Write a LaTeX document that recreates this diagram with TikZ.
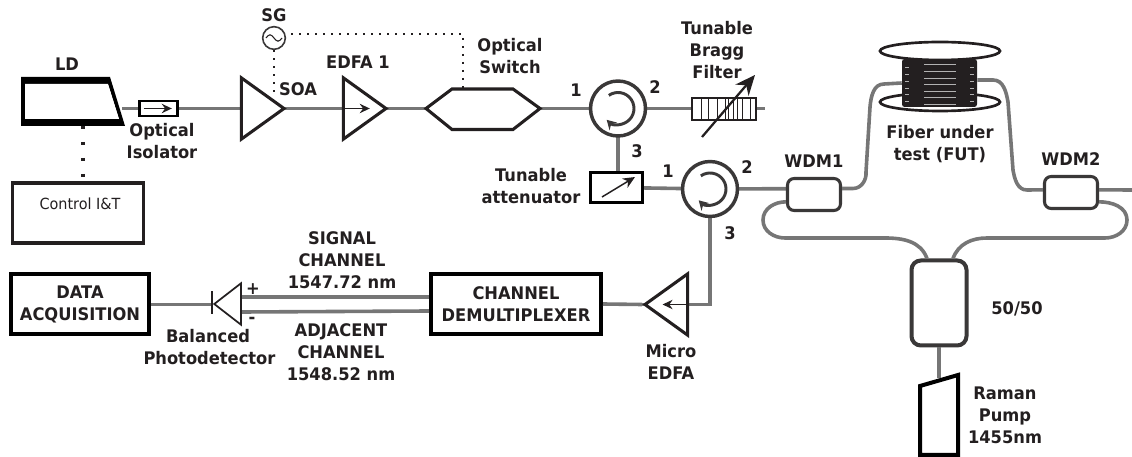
\documentclass[tikz,border=0pt]{standalone}
\usepackage{fontspec}
\setmainfont{DejaVu Sans}[FakeStretch=0.94]
\usepackage{tikz}
\usetikzlibrary{positioning}
\usetikzlibrary{arrows.meta,shapes.geometric}
\definecolor{inkC}{RGB}{35,31,32}
\definecolor{lineC}{RGB}{58,56,56}
\definecolor{fiberC}{RGB}{118,118,118}

\begin{document}
\begin{tikzpicture}[x=0.75pt,y=0.75pt]
\tikzset{
  lbl/.style={font=\bfseries\fontsize{13}{16.5}\selectfont,text=inkC,text width=3.4cm,text badly centered,inner sep=0pt},
  fiber/.style={draw=fiberC,line width=2.7pt},
  boxed/.style={draw=black,fill=white,line width=3pt,rectangle,inner sep=0pt,font=\bfseries\fontsize{13}{16.5}\selectfont,text=inkC,align=center},
  wdmbox/.style={draw=lineC,fill=white,line width=2.3pt,rectangle,rounded corners=5pt,inner sep=0pt},
  circulator/.style={circle,draw=lineC,fill=white,line width=2.6pt,minimum size=41.25pt,inner sep=0pt},
  amp/.style={isosceles triangle,isosceles triangle stretches,draw=inkC,fill=white,line width=2.3pt,inner sep=0pt,minimum width=46pt,minimum height=32pt},
  turn/.style={line width=2.2pt,draw=lineC,-{Stealth[length=7pt,width=8pt]}},
  sparse/.style={draw=inkC,line width=1.5pt,dash pattern=on 1.5pt off 4.5pt},
  gain/.style={draw=inkC,line width=1.2pt,-{Stealth[length=7.5pt,width=7pt]}}
}
\useasboundingbox (0,0) rectangle (1132,457);

% \draw[help lines] (0,0) grid (1132,457);

\coordinate (ldOut) at (122,348.5);
\coordinate (ldBase) at (83,331);
\coordinate (sgOut) at (291,423);
\coordinate (detPlus) at (242,160);
\coordinate (detMinus) at (242,145);
\coordinate (ramanIn) at (939,79);
\coordinate (braggEnd) at (765,348.5);
\coordinate (wdmEnd) at (1132,267);
\coordinate (switchTop) at (463,369);

\node[boxed,line width=2.3pt,draw=inkC,minimum width=98.25pt,minimum height=45pt] (control) at (78,244) {};
\node[font=\fontsize{11.5}{16}\selectfont,text=inkC,inner sep=0pt] (controlText) at (80,253) {Control I\&T};
\node[boxed,minimum width=103.5pt,minimum height=45pt] (dataBox) at (80,152.5) {DATA\\ACQUISITION};
\node[boxed,minimum width=127.5pt,minimum height=45pt] (demux) at (516,153) {CHANNEL\\DEMULTIPLEXER};

\draw[sparse,line width=2.6pt,dash pattern=on 2.6pt off 9.4pt] (ldBase) -- (ldBase |- control.north);

% main fiber line
\draw[fiber] (ldOut) -- (braggEnd);
\draw[fiber] (618,348.5) -- (618,269.5);
\draw[fiber] (616.5,269.5) -- (710,268);
\draw[fiber] (710,268) -- (842,268.5);
\draw[fiber] (710,268) -- (710,152.5) -- (642,152.5);
\draw[fiber] (demux.east) -- (642,152.5);
\draw[fiber] (dataBox.east) -- (213,152.5);
\draw[fiber] (detPlus) -- ([yshift=5.25pt]demux.west);
\draw[fiber] (detMinus) -- ([yshift=-5.25pt]demux.west);

% LD
\fill[black,even odd rule] (21,380) -- (110,380) -- (125,331) -- (21,331) -- cycle
      (25,373) -- (108,373) -- (119,338) -- (25,338) -- cycle;
\fill[white] (25,373) -- (108,373) -- (119,338) -- (25,338) -- cycle;

\node[rectangle,draw=black,fill=white,line width=2.2pt,minimum width=28.5pt,minimum height=11.25pt,inner sep=0pt] (isolator) at (158.5,348.5) {};
\draw[gain] ([xshift=-11pt]isolator.center) -- ([xshift=10pt]isolator.center);

\node[amp,anchor=apex] (soa) at (288,348.5) {};
\node[amp,anchor=apex] (edfa) at (390,348.5) {};
\draw[gain] (edfa.west) -- ([xshift=21pt]edfa.west);

\draw[draw=inkC,fill=white,line width=2.3pt] (426,348.5) -- (452,368) -- (513,368) -- (540,348.5) -- (513,327.5) -- (452,327.5) -- cycle;

\node[circulator] (circA) at (618,348.5) {};
\node[circulator] (circB) at (710,268) {};
\draw[turn] ([shift={(125:12pt)}]circA.center) arc[start angle=125,end angle=-135,radius=12pt];
\draw[turn] ([shift={(125:12pt)}]circB.center) arc[start angle=125,end angle=-135,radius=12pt];

\node[rectangle,draw=inkC,fill=white,line width=0.8pt,minimum width=48pt,minimum height=16.5pt,inner sep=0pt] (bragg) at (724,348) {};
\draw[inkC,line width=0.7pt] (701,337) -- (701,359) (708,337) -- (708,359) (717,337) -- (717,359)
      (725,337) -- (725,359) (728,337) -- (728,359) (733,337) -- (733,359)
      (737,337) -- (737,359) (742,337) -- (742,359) (750,337) -- (750,359);
\draw[inkC,line width=1.7pt,-{Stealth[length=15pt,width=13pt]}] (702,320) -- (755,382);

\node[rectangle,draw=black,fill=white,line width=2.7pt,minimum width=39pt,minimum height=22.5pt,inner sep=0pt] (atten) at (616.5,269.5) {};
\draw[inkC,line width=1.1pt,-{Stealth[length=9pt,width=8pt]}] (602,260) -- (635,280);

\node[wdmbox] at (814,262.5) [minimum width=39.75pt,minimum height=24pt] (wdmOne) {};
\node[wdmbox] at (1071,264.5) [minimum width=39.75pt,minimum height=24pt] (wdmTwo) {};
\node[wdmbox,line width=3pt,rounded corners=7pt,minimum width=41.25pt,minimum height=63.75pt] (coupler) at (939,154) {};

% spool of fiber under test
\node[ellipse,draw=inkC,fill=white,line width=2pt,minimum width=90pt,minimum height=13.5pt,inner sep=0pt] (spoolLow) at (940,355) {};
\node[rectangle,fill=inkC,rounded corners=2pt,minimum width=56.25pt,minimum height=36pt,inner sep=0pt] (spoolBody) at (939.5,374) {};
\node[ellipse,draw=inkC,fill=white,line width=2pt,minimum width=90pt,minimum height=13.5pt,inner sep=0pt] (spoolTop) at (940,406) {};
\draw[white!70!black,line width=0.5pt] (924,393) -- (956,393) (924,386) -- (956,386) (924,379) -- (956,379)
      (924,373) -- (956,373) (924,366) -- (956,366) (924,360) -- (956,360) (924,353) -- (956,353);
\draw[white!70!black,line width=0.5pt] (905,390) -- (909,390) (905,383) -- (909,383) (905,376) -- (909,376)
      (905,369) -- (909,369) (905,363) -- (909,363) (905,356) -- (909,356)
      (970,390) -- (974,390) (970,383) -- (974,383) (970,376) -- (974,376)
      (970,369) -- (974,369) (970,363) -- (974,363) (970,356) -- (974,356);

% fiber around the spool and the couplers
\draw[fiber] ([yshift=4.5pt]wdmOne.east) -- (853,268.5) to [out=0,in=-85] (866,285)
      -- (870,350) to [out=85,in=180] (884,373) -- (spoolBody.west);
\draw[fiber] ([yshift=2.25pt]spoolBody.east) -- (993,377) to [out=0,in=100] (1008,355)
      -- (1013,287) to [out=-80,in=180] (1027,267) -- ([yshift=2pt]wdmTwo.west);
\draw[fiber] ([yshift=2pt]wdmTwo.east) -- (wdmEnd);
\draw[fiber] ([yshift=-5.5pt]wdmOne.west) to [out=180,in=90] (763,237)
      to [out=-90,in=180] (785,219) -- (885,219) to [out=0,in=110] ([xshift=-9pt]coupler.north);
\draw[fiber] ([xshift=10.5pt]coupler.north) to [out=70,in=180] (987,219) -- (1105,219)
      to [out=0,in=-90] (1127,237) to [out=90,in=0] ([yshift=-7pt]wdmTwo.east);
\draw[fiber] (coupler.south) -- (ramanIn);

% Raman pump
\draw[black,line width=3pt,miter limit=4] (920,71) -- (958,82) -- (958,2) -- (920,2) -- cycle;

% detector
\node[isosceles triangle,isosceles triangle stretches,shape border rotate=180,draw=inkC,fill=white,line width=1.3pt,minimum width=31pt,minimum height=20pt,inner sep=0pt,anchor=apex] (detector) at (212,153) {};
\draw[inkC,line width=1.2pt] (212,143) -- (212,166);

% micro amplifier
\node[amp,shape border rotate=180,anchor=apex] (micro) at (641,152.5) {};
\draw[gain] (micro.east) -- ([xshift=-20pt]micro.east);

% signal generator
\node[circle,draw=lineC,fill=white,line width=1.2pt,minimum size=17pt,inner sep=0pt] (sg) at (274,419) {};
\draw[inkC,line width=0.8pt] ([xshift=-6pt]sg.center) sin ++(3pt,2.4pt) cos ++(3pt,-2.4pt) sin ++(3pt,-2.4pt) cos ++(3pt,2.4pt);
\draw[sparse] (sg.south) -- (274,360);
\draw[sparse] (sgOut) -| (switchTop);

% labels
\node[lbl] (ldLabel) at (67,393) {LD};
\node[lbl] (isoLabel) at (162,316) {Optical\\Isolator};
\node[lbl] (sgLabel) at (274,442) {SG};
\node[lbl] (soaLabel) at (298,368) {SOA};
\node[lbl] (edfaLabel) at (358,395) {EDFA 1};
\node[lbl] (switchLabel) at (510,401) {Optical\\Switch};
\node[lbl] (braggLabel) at (717,407) {Tunable\\Bragg\\Filter};
\node[lbl] (attenLabel) at (531,271) {Tunable\\attenuator};
\node[lbl] (portAa) at (576,367) {1};
\node[lbl] (portAb) at (655,370) {2};
\node[lbl] (portAc) at (637,306) {3};
\node[lbl] (portBa) at (668,286) {1};
\node[lbl] (portBb) at (747,290) {2};
\node[lbl] (portBc) at (730,224) {3};
\node[lbl] (wdmOneLabel) at (814,296) {WDM1};
\node[lbl] (wdmTwoLabel) at (1071,298) {WDM2};
\node[lbl] (futLabel) at (940,313) {Fiber under\\test (FUT)};
\node[lbl] (signalLabel) at (342,197) {SIGNAL\\CHANNEL\\1547.72 nm};
\node[lbl] (adjacentLabel) at (341,105) {ADJACENT\\CHANNEL\\1548.52 nm};
\node[lbl] (detLabel) at (208,110) {Balanced\\Photodetector};
\node[lbl] (plusLabel) at (253,168) {+};
\node[lbl] (minusLabel) at (252,137) {-};
\node[lbl] (microLabel) at (671,95) {Micro\\EDFA};
\node[lbl] (splitLabel) at (1017,148) {50/50};
\node[lbl] (ramanLabel) at (1005,42) {Raman\\Pump\\1455nm};
\end{tikzpicture}
\end{document}
